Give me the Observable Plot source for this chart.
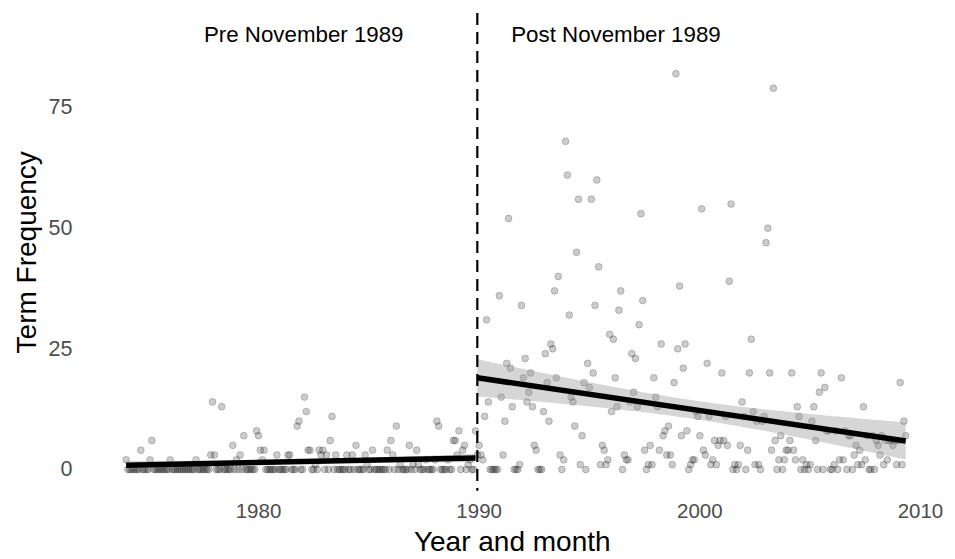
<!DOCTYPE html>
<html>
<head>
<meta charset="utf-8">
<script src="https://cdn.jsdelivr.net/npm/d3@7"></script>
<script src="https://cdn.jsdelivr.net/npm/@observablehq/plot@0.6"></script>
<style>
  html, body { margin: 0; padding: 0; background: #fff; }
  #chart svg { display: block; }
</style>
</head>
<body>
<div id="chart"></div>
<script>
// Monthly series: pre period starts January 1974, post period starts December 1989
const preStartYear = 1974, preStartMonth = 0;     // Jan 1974
const postStartYear = 1989, postStartMonth = 11;  // Dec 1989
const cutoffYear = 1989, cutoffMonth = 11;

const preValues = [
  2,0,0,0,0,0,0,0,4,0,
  0,0,0,2,6,0,0,0,0,0,
  0,0,0,0,2,0,0,0,0,0,
  0,0,0,0,0,0,0,0,2,0,
  0,0,0,0,0,0,3,14,3,0,
  0,0,13,0,0,0,0,0,5,0,
  2,0,3,0,7,0,0,0,0,0,
  0,8,7,4,2,4,0,0,0,0,
  0,0,3,0,0,0,0,0,3,3,
  0,0,0,9,10,0,0,15,12,4,
  4,0,0,1,0,4,3,4,0,3,
  0,6,11,0,3,0,0,0,0,0,
  3,0,0,3,0,5,0,0,0,0,
  3,1,0,0,4,0,0,0,0,0,
  0,0,4,0,6,3,0,9,0,1,
  0,0,0,0,5,0,1,0,4,1,
  0,0,0,2,0,0,0,0,2,10,
  9,0,0,0,0,2,0,0,6,6,
  3,8,0,4,5,0,1,2,0,0,
  8
];

const postValues = [
  3,5,3,2,11,31,14,0,0,0,
  0,0,36,15,3,10,22,52,21,13,
  0,0,0,1,34,19,23,14,16,20,
  13,5,4,0,0,0,12,24,18,10,
  26,25,37,19,40,3,0,2,68,61,
  32,15,14,9,45,56,1,7,18,0,
  22,17,56,20,34,60,42,1,5,4,
  1,2,28,12,27,19,13,33,37,0,
  3,2,2,14,24,16,23,13,30,53,
  35,4,0,1,5,1,19,15,13,4,
  26,7,8,3,9,3,1,18,82,25,
  38,7,21,26,8,0,1,2,2,12,
  11,7,54,4,3,22,11,1,2,6,
  1,5,6,20,6,11,5,39,55,0,
  1,0,1,5,14,11,0,4,20,27,
  12,1,10,1,0,10,11,47,50,20,
  4,79,6,0,2,7,0,2,4,4,
  6,20,4,2,13,11,0,2,0,1,
  0,1,10,13,6,0,16,20,0,17,
  8,8,0,0,1,8,0,2,19,2,
  8,0,7,7,0,3,5,1,4,1,
  13,2,7,0,0,7,0,6,5,3,
  7,1,6,2,6,6,5,6,1,6,
  18,1,10,7
];

const xTicks = [1980, 1990, 2000, 2010];
const yTicks = [0, 25, 50, 75];
const annotX = [1982.05, 1996.2];
const annotY = [90, 90];
const annotLabels = ["Pre November 1989", "Post November 1989"];
const xTitle = "Year and month";
const yTitle = "Term Frequency";

const monthToYear = (y, m) => y + m / 12;
const pre = preValues.map((v, i) => ({x: monthToYear(preStartYear, preStartMonth + i), y: v}));
const post = postValues.map((v, i) => ({x: monthToYear(postStartYear, postStartMonth + i), y: v}));
const all = pre.concat(post);
const cutoff = monthToYear(cutoffYear, cutoffMonth);
const annots = annotLabels.map((t, i) => ({x: annotX[i], y: annotY[i], t}));

const font = "'Liberation Sans', Arial, Helvetica, sans-serif";

const chart = Plot.plot({
  width: 955,
  height: 559,
  marginTop: 12.9,
  marginBottom: 68.3,
  marginLeft: 87,
  marginRight: 18.5,
  style: {fontFamily: font, background: "#fff", overflow: "visible"},
  x: {domain: [1972.25, 2010.75]},
  y: {domain: [-4.5, 94.5]},
  marks: [
    Plot.axisX({ticks: xTicks, tickSize: 0, tickPadding: 12, tickFormat: "d", fontSize: 20.5, color: "#4d4d4d", label: null}),
    Plot.axisY({ticks: yTicks, tickSize: 0, tickPadding: 15, tickFormat: "d", fontSize: 21.5, color: "#4d4d4d", label: null}),
    Plot.dot(all, {x: "x", y: "y", r: 3.4, fill: "black", fillOpacity: 0.2, stroke: "black", strokeOpacity: 0.2, strokeWidth: 1}),
    Plot.linearRegressionY(pre, {x: "x", y: "y", stroke: "black", strokeWidth: 5.5, strokeLinecap: "butt", fill: "#999999", fillOpacity: 0.4, ci: 0.95}),
    Plot.linearRegressionY(post, {x: "x", y: "y", stroke: "black", strokeWidth: 5.5, strokeLinecap: "butt", fill: "#999999", fillOpacity: 0.4, ci: 0.95}),
    Plot.ruleX([cutoff], {stroke: "black", strokeWidth: 2.2, strokeDasharray: "12,7"}),
    Plot.text(annots, {x: "x", y: "y", text: "t", fontSize: 22.3, fill: "black"}),
    Plot.text([xTitle], {text: d => d, frameAnchor: "bottom", textAnchor: "middle", dy: 60, fontSize: 28, fill: "black"}),
    Plot.text([yTitle], {text: d => d, frameAnchor: "left", textAnchor: "middle", dx: -60, rotate: -90, fontSize: 28, fill: "black"})
  ]
});
document.getElementById("chart").appendChild(chart);
</script>
</body>
</html>
